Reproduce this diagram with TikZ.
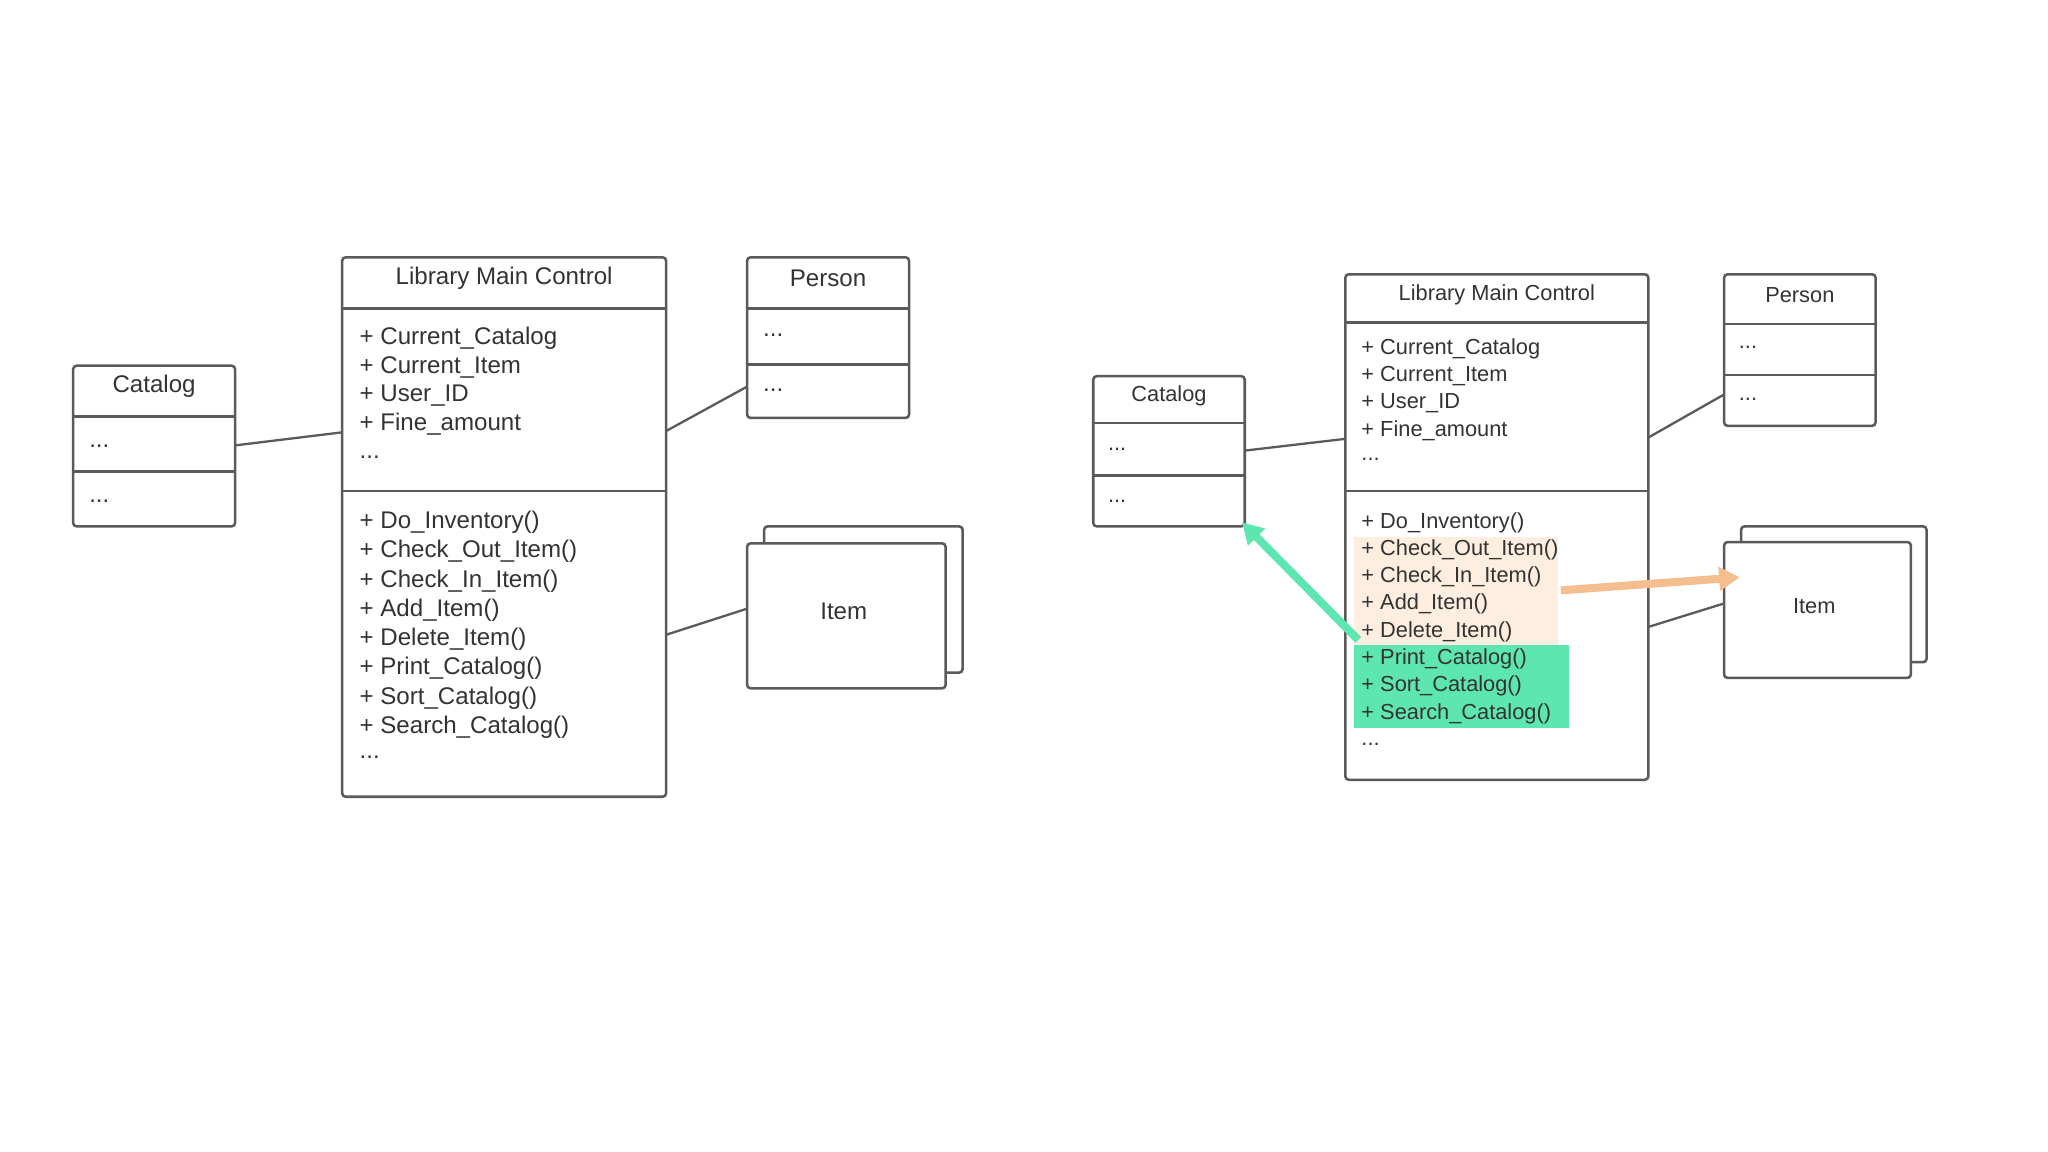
\documentclass[tikz,border=0pt]{standalone}
\usepackage{fontspec}
\setmainfont{Liberation Sans}
\usetikzlibrary{arrows.meta}
\definecolor{ln}{HTML}{5A5A5A}
\definecolor{tx}{HTML}{333333}
\definecolor{peach}{HTML}{FDEEDF}
\definecolor{mint}{HTML}{5EE6B0}
\definecolor{orarr}{HTML}{F4BE8E}
\tikzset{
 box/.style={draw=ln,line width=1.1pt,rounded corners=1.5pt,fill=white},
 sep/.style={draw=ln,line width=1.1pt},
 conn/.style={draw=ln,line width=1pt},
 lt/.style={anchor=west,text=tx,font=\fontsize{10.5}{12}\selectfont,inner sep=0pt},
 rt/.style={anchor=west,text=tx,font=\fontsize{9.5}{11}\selectfont,inner sep=0pt},
 ttl/.style={text=tx,font=\fontsize{10.5}{12}\selectfont,inner sep=0pt},
 rttl/.style={text=tx,font=\fontsize{9.5}{11}\selectfont,inner sep=0pt},
}
\begin{document}
\begin{tikzpicture}[x=0.02cm,y=-0.02cm]
\useasboundingbox[fill=white] (0,0) rectangle (1568,882);
% ---------- LEFT ----------
\draw[box] (56,280) rectangle (180,403);
\draw[sep] (56,319)--(180,319); \draw[sep] (56,361)--(180,361);
\node[ttl] (lcat) at (118,296) {Catalog};
\node[lt] at (68,342) {...}; \node[lt] at (68,384) {...};
\coordinate (lcatR) at (180,341);

\draw[box] (262,197) rectangle (510,610);
\draw[sep] (262,236)--(510,236); \draw[sep] (262,376)--(510,376);
\node[ttl] (llmc) at (386,213) {Library Main Control};
\foreach \t [count=\i from 0] in {+ Current\_Catalog,+ Current\_Item,+ User\_ID,+ Fine\_amount}
  \node[lt] at (275,259+22*\i) {\t};
\node[lt] at (275,350) {...};
\foreach \t [count=\i from 0] in {+ Do\_Inventory(),+ Check\_Out\_Item(),+ Check\_In\_Item(),+ Add\_Item(),+ Delete\_Item(),+ Print\_Catalog(),+ Sort\_Catalog(),+ Search\_Catalog()}
  \node[lt] at (275,400+22.4*\i) {\t};
\node[lt] at (275,580) {...};
\coordinate (llmcL) at (262,331);
\coordinate (llmcR1) at (510,330);
\coordinate (llmcR2) at (510,486);

\draw[box] (572,197) rectangle (696,320);
\draw[sep] (572,236)--(696,236); \draw[sep] (572,279)--(696,279);
\node[ttl] (lper) at (634,213) {Person};
\node[lt] at (584,257) {...}; \node[lt] at (584,299) {...};
\coordinate (lperL) at (572,296);

\draw[box] (585,403) rectangle (737,515);
\draw[box] (572,416) rectangle (724,527);
\node[ttl] (litem) at (646,468) {Item};
\coordinate (litemL) at (572,466);

\draw[conn] (lcatR)--(llmcL);
\draw[conn] (llmcR1)--(lperL);
\draw[conn] (llmcR2)--(litemL);

% ---------- RIGHT ----------
\draw[box] (837,288) rectangle (953,403);
\draw[sep] (837,324)--(953,324); \draw[sep] (837,364)--(953,364);
\node[rttl] (rcat) at (895,303) {Catalog};
\node[rt] at (848,344) {...}; \node[rt] at (848,384) {...};
\coordinate (rcatR) at (953,345);
\coordinate (rcatC) at (951,400);

\draw[box] (1030,210) rectangle (1262,597);
\draw[sep] (1030,247)--(1262,247); \draw[sep] (1030,376)--(1262,376);
\fill[peach] (1037,411) rectangle (1193,494);
\fill[mint] (1037,494) rectangle (1201,557);
\node[rttl] (rlmc) at (1146,226) {Library Main Control};
\foreach \t [count=\i from 0] in {+ Current\_Catalog,+ Current\_Item,+ User\_ID,+ Fine\_amount}
  \node[rt] at (1042,267+21*\i) {\t};
\node[rt] at (1042,352) {...};
\foreach \t [count=\i from 0] in {+ Do\_Inventory(),+ Check\_Out\_Item(),+ Check\_In\_Item(),+ Add\_Item(),+ Delete\_Item(),+ Print\_Catalog(),+ Sort\_Catalog(),+ Search\_Catalog()}
  \node[rt] at (1042,400+20.9*\i) {\t};
\node[rt] at (1042,570) {...};
\coordinate (rlmcL) at (1030,336);
\coordinate (rlmcR1) at (1262,335);
\coordinate (rlmcR2) at (1262,480);
\coordinate (rgreen) at (1040,490);
\coordinate (rpeach) at (1195,452);

\draw[box] (1320,210) rectangle (1436,326);
\draw[sep] (1320,248)--(1436,248); \draw[sep] (1320,287)--(1436,287);
\node[rttl] (rper) at (1378,226) {Person};
\node[rt] at (1331,266) {...}; \node[rt] at (1331,306) {...};
\coordinate (rperL) at (1320,302);

\draw[box] (1333,403) rectangle (1475,507);
\draw[box] (1320,415) rectangle (1463,519);
\node[rttl] (ritem) at (1389,464) {Item};
\coordinate (ritemL) at (1320,462);
\coordinate (ritemT) at (1332,442);

\draw[conn] (rcatR)--(rlmcL);
\draw[conn] (rlmcR1)--(rperL);
\draw[conn] (rlmcR2)--(ritemL);

\draw[mint,line width=3.5pt,-{Triangle[length=9pt,width=10pt]}] (rgreen)--(rcatC);
\draw[orarr,line width=3.5pt,-{Triangle[length=9pt,width=10pt]}] (rpeach)--(ritemT);
\end{tikzpicture}
\end{document}
